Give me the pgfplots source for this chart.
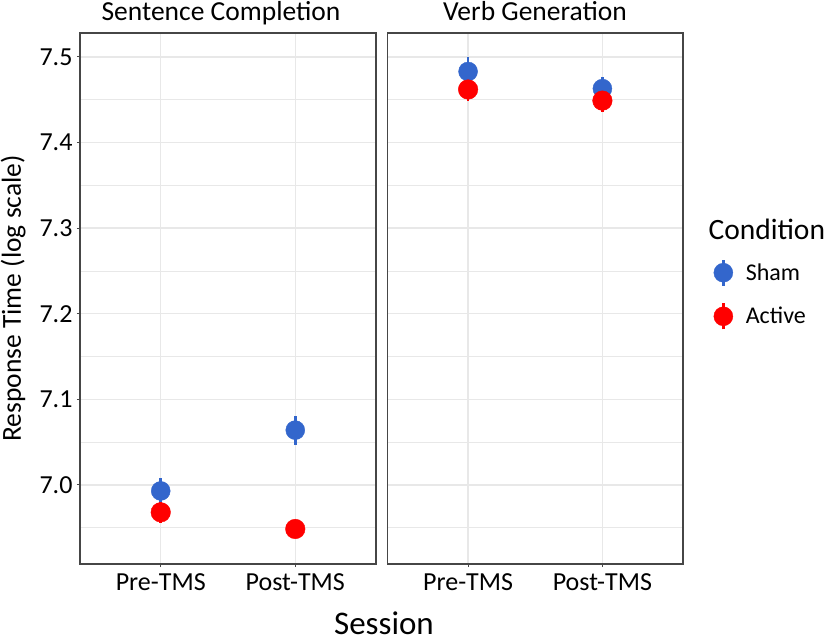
\documentclass[border=0pt]{standalone}
\usepackage{pgfplots}
\pgfplotsset{compat=1.18}
\usepackage{fontspec}
\setmainfont{Carlito}
\definecolor{shamblue}{RGB}{51,102,204}
\definecolor{activered}{RGB}{255,0,0}
\definecolor{gridgray}{RGB}{232,232,232}
\definecolor{framegray}{RGB}{70,70,70}

\pgfplotstableread{
x y e
1 6.993 0.015
2 7.064 0.017
}\shamSC
\pgfplotstableread{
x y e
1 6.968 0.012
2 6.9485 0.010
}\activeSC
\pgfplotstableread{
x y e
1 7.483 0.017
2 7.463 0.014
}\shamVG
\pgfplotstableread{
x y e
1 7.462 0.013
2 7.449 0.013
}\activeVG

\pgfplotsset{
  panel/.style={
    scale only axis, width=296pt, height=531pt, anchor=south west,
    xmin=0.4, xmax=2.6, ymin=6.9076, ymax=7.528,
    xtick={1,2}, xticklabels={Pre-TMS,Post-TMS},
    ytick={7.0,7.1,7.2,7.3,7.4,7.5},
    minor ytick={6.95,7.05,7.15,7.25,7.35,7.45},
    grid=both,
    major grid style={gridgray, line width=1.3pt},
    minor grid style={gridgray, line width=0.8pt},
    axis line style={framegray, line width=1.5pt},
    tick style={framegray, line width=1pt},
    major tick length=3pt, minor tick length=0pt,
    tick align=outside, xtick pos=bottom, ytick pos=left,
    ticklabel style={font=\fontsize{26}{26}\selectfont, text=black},
    xticklabel style={yshift=-3pt},
    yticklabel style={/pgf/number format/fixed, /pgf/number format/fixed zerofill, /pgf/number format/precision=1, xshift=-1pt},
    /pgf/number format/assume math mode=true,
    clip=false,
  },
  sham/.style={only marks, mark=*, color=shamblue, mark size=9.5pt,
    mark options={draw=none, fill=shamblue},
    error bars/.cd, y dir=both, y explicit, error mark=none,
    error bar style={line width=2.6pt, shamblue}},
  active/.style={only marks, mark=*, color=activered, mark size=9.8pt,
    mark options={draw=none, fill=activered},
    error bars/.cd, y dir=both, y explicit, error mark=none,
    error bar style={line width=2.6pt, activered}},
}

\begin{document}
\begin{tikzpicture}
\path[use as bounding box] (0pt,0pt) rectangle (826pt,642pt);

\begin{axis}[panel, at={(80pt,78pt)},
  ylabel={Response Time (log scale)},
  ylabel style={font=\fontsize{27.5}{27.5}\selectfont, at={(axis description cs:-0.226,0.5)}, anchor=center},
]
\addplot[sham] table[x=x, y=y, y error=e] {\shamSC};
\addplot[active] table[x=x, y=y, y error=e] {\activeSC};
\end{axis}

\begin{axis}[panel, at={(387.5pt,78pt)}, width=295.5pt,
  yticklabels={}, ytick style={draw=none},
  legend style={at={(axis description cs:1.103,0.5075)}, anchor=west,
    draw=none, fill=none, inner sep=0pt,
    font=\fontsize{24}{24}\selectfont, row sep=15pt,
    cells={anchor=west}},
  legend image code/.code={
    \draw[line width=2.6pt] (9.5pt,-13pt) -- (9.5pt,13pt);
    \fill (9.5pt,0pt) circle (9.5pt);
    \path[draw=none] (0pt,0pt) -- (30pt,0pt);
  },
]
\addplot[sham] table[x=x, y=y, y error=e] {\shamVG};
\addlegendentry{Sham}
\addplot[active] table[x=x, y=y, y error=e] {\activeVG};
\addlegendentry{Active}
\end{axis}

\node[anchor=base, font=\fontsize{27.5}{27.5}\selectfont] at (221pt,621pt) {Sentence Completion};
\node[anchor=base, font=\fontsize{27.5}{27.5}\selectfont] at (535pt,621pt) {Verb Generation};
\node[anchor=base west, font=\fontsize{29.5}{29.5}\selectfont] at (705pt,402pt) {Condition};
\node[anchor=base, font=\fontsize{33}{33}\selectfont] at (384pt,8pt) {Session};
\end{tikzpicture}
\end{document}
